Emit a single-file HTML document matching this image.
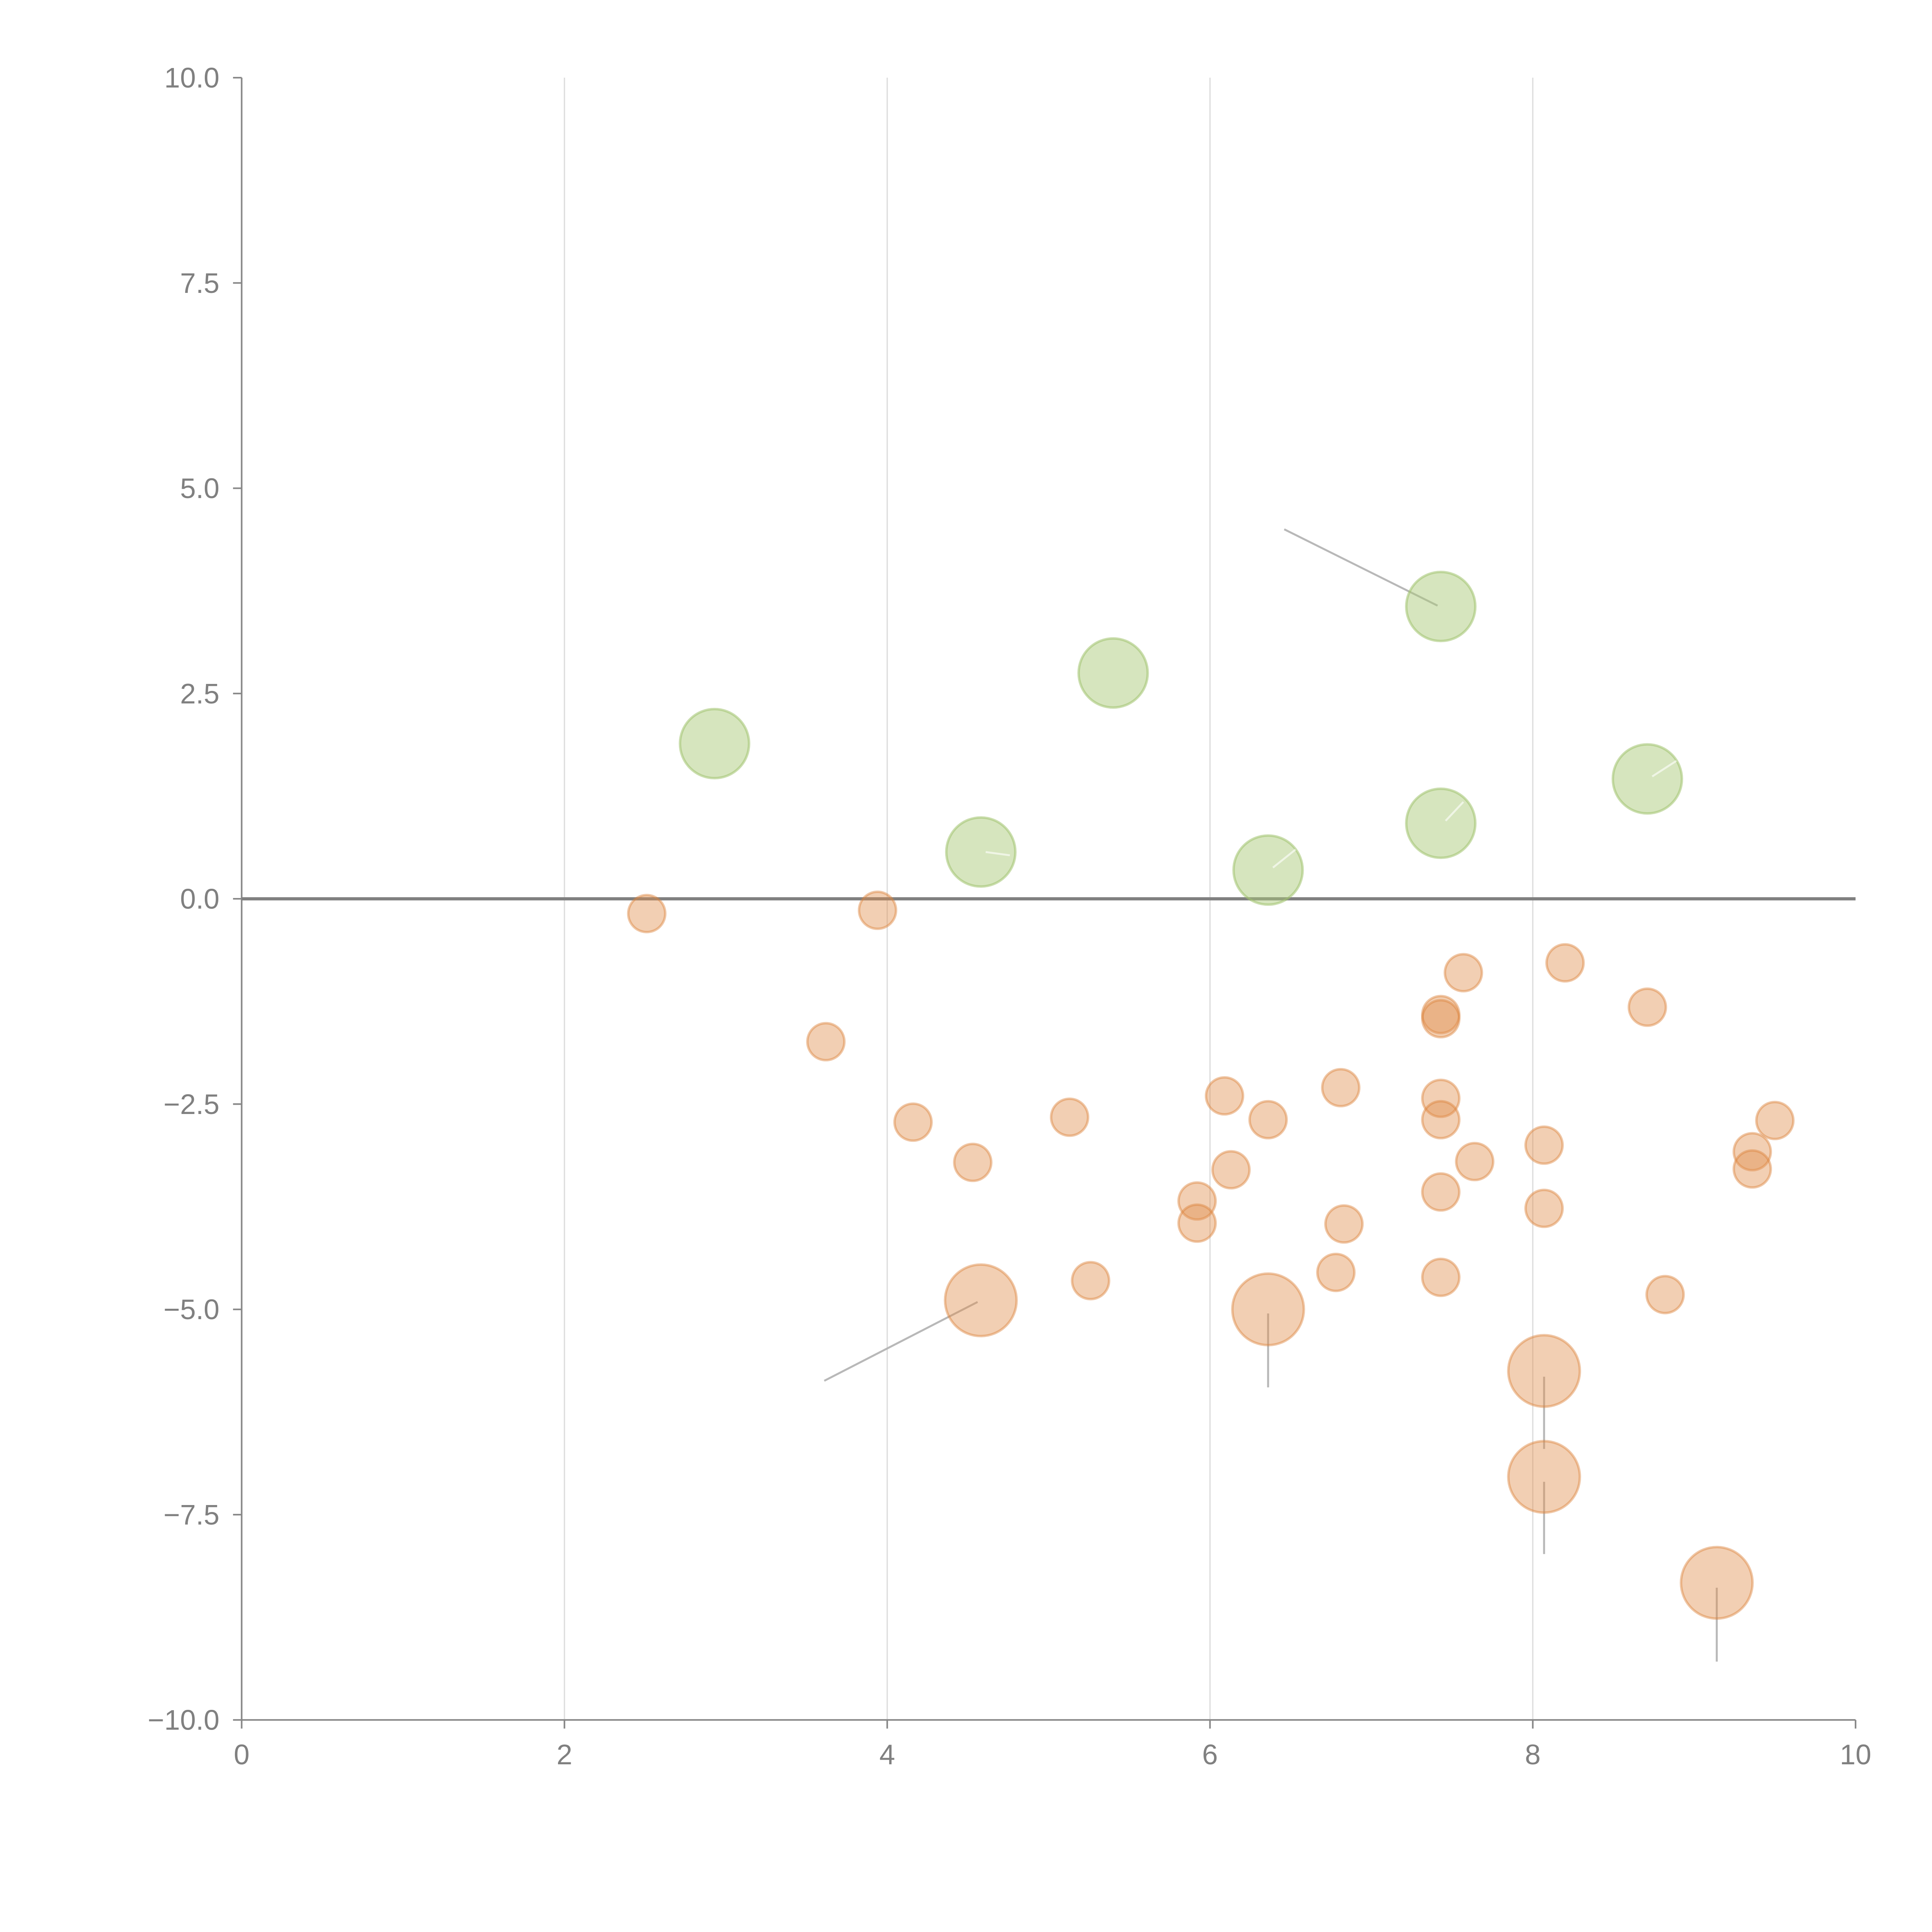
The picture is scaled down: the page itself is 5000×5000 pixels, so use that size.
<!DOCTYPE html>
<html><head><meta charset="utf-8"><style>html,body{margin:0;padding:0;background:#fff}svg{display:block}</style></head>
<body>
<svg id="chart" width="5000" height="5000" viewBox="0 0 1567 1567" xmlns="http://www.w3.org/2000/svg" font-family="'Liberation Sans', sans-serif">
<g id="grid"></g>
<g id="axes"></g>
<g id="leaders"></g>
<g id="marks"></g>
<g id="labels"></g>
</svg>
<script>
const greenX = [2.93, 5.40, 7.43, 4.58, 6.36, 7.43, 8.71];
const greenY = [1.89, 2.75, 3.56, 0.57, 0.35, 0.92, 1.46];
const orangeX = [2.51,3.94,3.62,4.16,4.53,5.13,5.26,5.92,5.92,6.09,6.13,6.36,6.78,6.81,6.83,7.43,7.43,7.57,7.43,7.43,7.43,7.43,7.64,8.20,8.07,8.07,8.71,8.82,9.36,9.36,9.50,4.58,6.36,8.07,8.07,9.14];
const orangeY = [-0.18,-0.14,-1.74,-2.72,-3.21,-2.66,-4.65,-3.68,-3.95,-2.40,-3.30,-2.69,-4.55,-2.30,-3.96,-1.41,-1.46,-0.90,-2.43,-2.69,-3.57,-4.61,-3.20,-0.78,-3.00,-3.77,-1.32,-4.82,-3.08,-3.29,-2.70,-4.89,-5.00,-5.75,-7.04,-8.33];
const orangeSize = [1,1,1,1,1,1,1,1,1,1,1,1,1,1,1,1,1,1,1,1,1,1,1,1,1,1,1,1,1,1,1,2,2,2,2,2];
const xTicks = [0,2,4,6,8,10];
const yTicks = [-10,-7.5,-5,-2.5,0,2.5,5,7.5,10];
const yTickLabels = ["\u221210.0","\u22127.5","\u22125.0","\u22122.5","0.0","2.5","5.0","7.5","10.0"];
const leaderFrom = [[6.46,4.5],[3.61,-5.87],[6.36,-5.05],[8.07,-5.82],[8.07,-7.1],[9.14,-8.39]];
const leaderTo = [[7.41,3.57],[4.56,-4.91],[6.36,-5.95],[8.07,-6.7],[8.07,-7.98],[9.14,-9.29]];
const innerFrom = [[4.61,0.57],[6.39,0.38],[7.46,0.95],[8.74,1.49]];
const innerTo = [[4.76,0.53],[6.53,0.6],[7.57,1.18],[8.89,1.68]];

const NS="http://www.w3.org/2000/svg";
const X0=196,X1=1505,Y0=1395,Y1=63;
const sx=v=>X0+(v-0)/(10-0)*(X1-X0);
const sy=v=>Y0-(v+10)/20*(Y0-Y1);
function mk(tag,attrs,parent){const e=document.createElementNS(NS,tag);for(const k in attrs)e.setAttribute(k,attrs[k]);parent.appendChild(e);return e;}
const grid=document.getElementById('grid'),axes=document.getElementById('axes'),marks=document.getElementById('marks'),leaders=document.getElementById('leaders');

xTicks.forEach(t=>{
  if(t>0&&t<10){const g=mk('line',{x1:sx(t),x2:sx(t),y1:Y1,y2:Y0,stroke:'#dcdcdc','stroke-width':1},grid);
  
  }
  const tk=mk('line',{x1:sx(t),x2:sx(t),y1:Y0,y2:Y0+7,stroke:'#888','stroke-width':1.3},axes);
  
  
  const tx=mk('text',{x:sx(t),y:Y0+36,'text-anchor':'middle','font-size':23,fill:'#808080'},axes);
  tx.textContent=String(t);
  
  
});
yTicks.forEach((t,i)=>{
  const tk=mk('line',{x1:X0-7,x2:X0,y1:sy(t),y2:sy(t),stroke:'#888','stroke-width':1.3},axes);
  
  
  const tx=mk('text',{x:X0-18,y:sy(t)+8,'text-anchor':'end','font-size':23,fill:'#808080'},axes);
  tx.textContent=yTickLabels[i];
  
  
});
let a=mk('line',{x1:X0,x2:X0,y1:Y1,y2:Y0,stroke:'#888','stroke-width':1.3},axes);


a=mk('line',{x1:X0,x2:X1,y1:Y0,y2:Y0,stroke:'#888','stroke-width':1.3},axes);


a=mk('line',{x1:X0,x2:X1,y1:sy(0),y2:sy(0),stroke:'#808080','stroke-width':2.6},axes);



leaderFrom.forEach((p,i)=>{
  const l=mk('line',{x1:sx(p[0]),y1:sy(p[1]),x2:sx(leaderTo[i][0]),y2:sy(leaderTo[i][1]),stroke:'#b8b8b8','stroke-width':1.6},leaders);
  
  
});

greenX.forEach((x,i)=>{
  const c=mk('circle',{cx:sx(x),cy:sy(greenY[i]),r:28,fill:'rgba(170,200,120,0.48)',stroke:'rgba(160,195,110,0.55)','stroke-width':2},marks);
  
  
});
orangeX.forEach((x,i)=>{
  const r=orangeSize[i]===2?29:15;
  const c=mk('circle',{cx:sx(x),cy:sy(orangeY[i]),r:r,fill:'rgba(225,140,75,0.42)',stroke:'rgba(220,130,60,0.45)','stroke-width':2},marks);
  
  
});
innerFrom.forEach((p,i)=>{
  const l=mk('line',{x1:sx(p[0]),y1:sy(p[1]),x2:sx(innerTo[i][0]),y2:sy(innerTo[i][1]),stroke:'rgba(255,255,255,0.6)','stroke-width':1.6},leaders.parentNode.querySelector('#labels'));
  
  
});
</script>
</body></html>
